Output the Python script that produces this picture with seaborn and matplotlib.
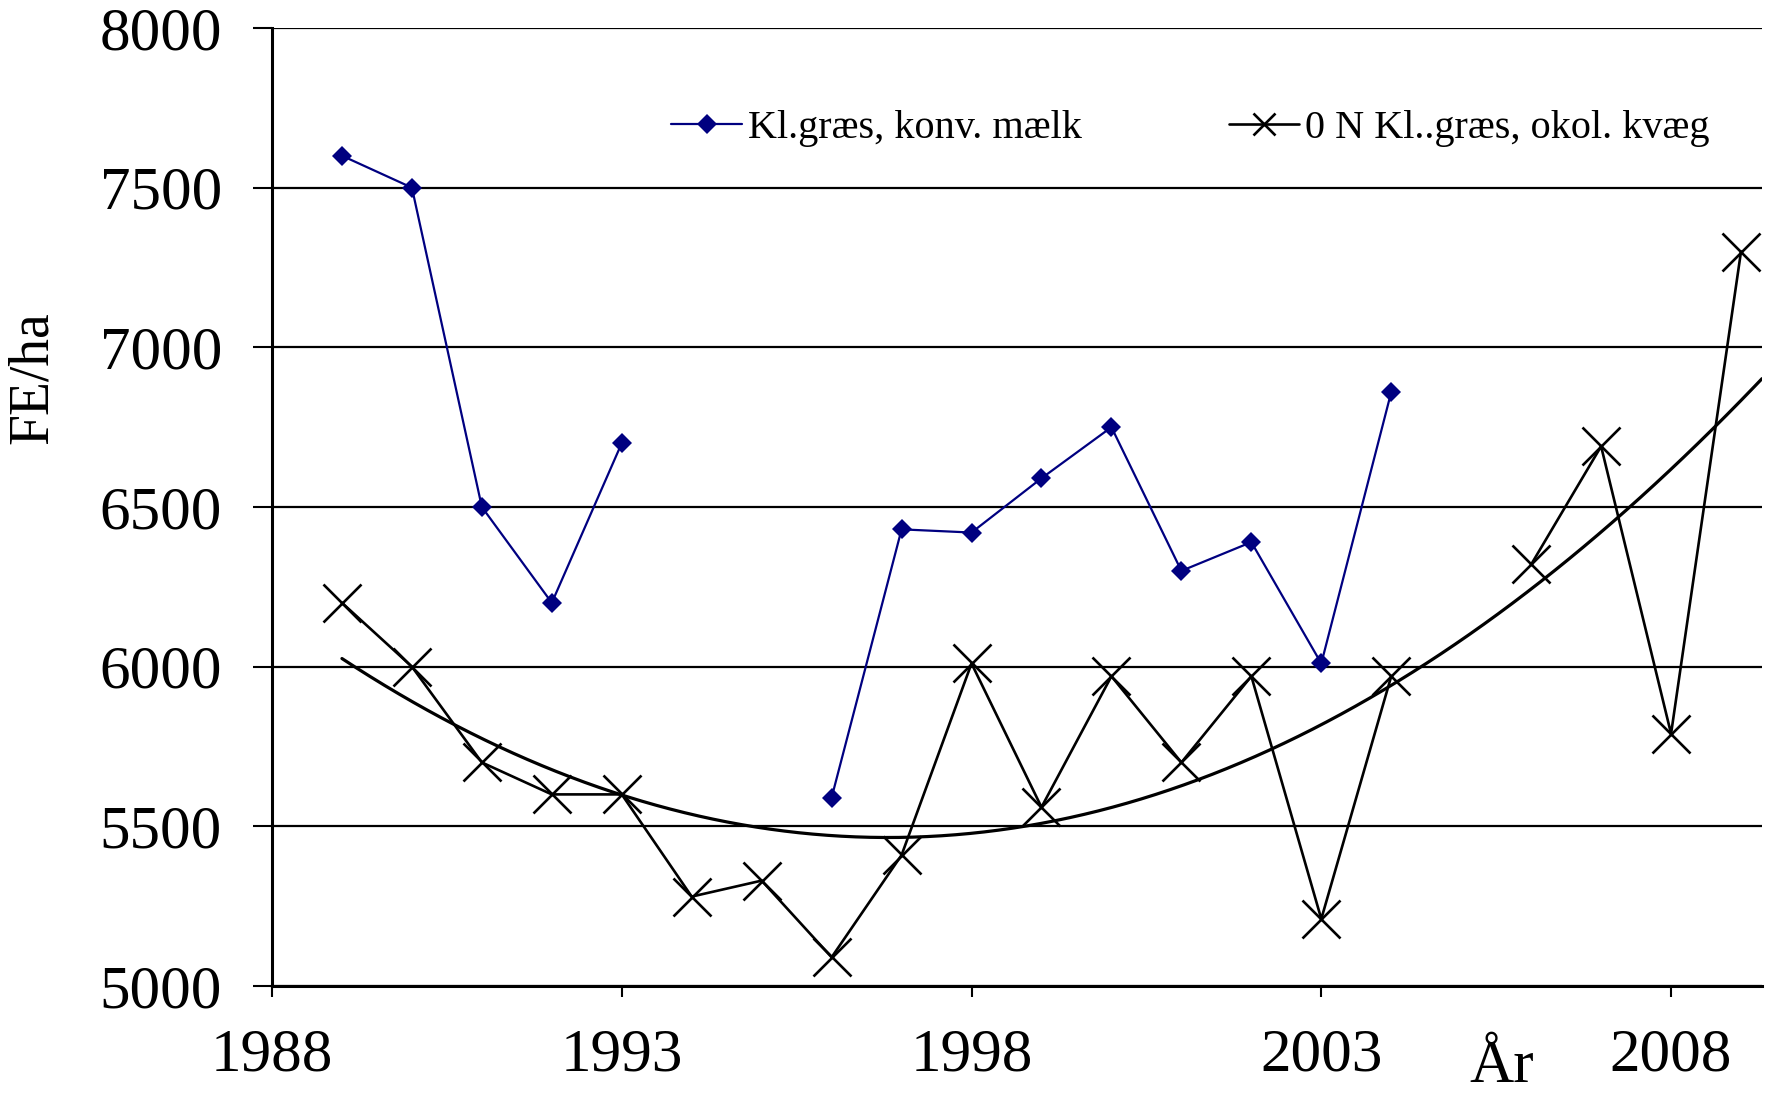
import numpy as np
import pandas as pd
import matplotlib
matplotlib.use("Agg")
import matplotlib.pyplot as plt
from matplotlib.lines import Line2D
import seaborn as sns

# ---- data ----
years_konv = [1989, 1990, 1991, 1992, 1993, 1996, 1997, 1998, 1999, 2000, 2001, 2002, 2003, 2004]
vals_konv = [7600, 7500, 6500, 6200, 6700, 5590, 6430, 6420, 6590, 6750, 6300, 6390, 6010, 6860]
seg_konv = [0, 0, 0, 0, 0, 1, 1, 1, 1, 1, 1, 1, 1, 1]

years_okol = [1989, 1990, 1991, 1992, 1993, 1994, 1995, 1996, 1997, 1998, 1999, 2000, 2001, 2002, 2003, 2004,
              2006, 2007, 2008, 2009]
vals_okol = [6200, 6000, 5700, 5600, 5600, 5280, 5330, 5090, 5410, 6010, 5560, 5970, 5700, 5970, 5210, 5970,
             6320, 6690, 5790, 7300]
seg_okol = [0] * 16 + [1] * 4

label_konv = "Kl.græs, konv. mælk"
label_okol = "0 N Kl..græs, okol. kvæg"
x_ticks = [1988, 1993, 1998, 2003, 2008]
y_ticks = [5000, 5500, 6000, 6500, 7000, 7500, 8000]

df_konv = pd.DataFrame({"year": years_konv, "val": vals_konv, "seg": seg_konv})
df_okol = pd.DataFrame({"year": years_okol, "val": vals_okol, "seg": seg_okol})

# polynomial (order 2) trend line of the okol series
coef = np.polyfit(years_okol, vals_okol, 2)
x_end = 2009.3
trend_x = np.linspace(1989, x_end, 200)
df_trend = pd.DataFrame({"year": trend_x, "val": np.polyval(coef, trend_x)})

# ---- style ----
sns.set_theme(style="white")
plt.rcParams["font.family"] = ["Liberation Serif", "DejaVu Serif"]
plt.rcParams["text.color"] = "black"
plt.rcParams["axes.labelcolor"] = "black"
plt.rcParams["xtick.color"] = "black"
plt.rcParams["ytick.color"] = "black"

fig = plt.figure(figsize=(17.71, 10.93), dpi=100)
ax = fig.add_axes([272 / 1771, 1 - 986 / 1093, (1762 - 272) / 1771, (986 - 28) / 1093])

navy = "#000080"
sns.lineplot(data=df_konv, x="year", y="val", units="seg", estimator=None, ax=ax,
             color=navy, linewidth=1.6, marker="D", markersize=10, markeredgewidth=0,
             markerfacecolor=navy, zorder=4)
sns.lineplot(data=df_okol, x="year", y="val", units="seg", estimator=None, ax=ax,
             color="black", linewidth=1.9, marker="x", markersize=28, markeredgewidth=1.9,
             markeredgecolor="black", zorder=3)
sns.lineplot(data=df_trend, x="year", y="val", ax=ax, color="black", linewidth=2.3, zorder=3)

ax.set_xlim(1988, x_end)
ax.set_ylim(5000, 8000)
ax.set_xticks(x_ticks)
ax.set_yticks(y_ticks)
ax.set_xticklabels([str(t) for t in x_ticks], fontsize=44)
ax.set_yticklabels([str(t) for t in y_ticks], fontsize=44)
ax.tick_params(axis="x", direction="out", length=8, width=1.5, pad=22, color="black", bottom=True)
ax.tick_params(axis="y", direction="out", length=14, width=1.5, pad=22, color="black", left=True)

ax.yaxis.grid(True, color="black", linewidth=1.6)
ax.xaxis.grid(False)
ax.set_axisbelow(True)
for s in ["top", "right"]:
    ax.spines[s].set_visible(False)
for s in ["left", "bottom"]:
    ax.spines[s].set_visible(True)
    ax.spines[s].set_color("black")
    ax.spines[s].set_linewidth(2.2)

ax.set_xlabel("")
ax.set_ylabel("FE/ha", fontsize=40)
ax.yaxis.set_label_coords(-0.143, 0.635)
ax.text(0.8255, -0.085, "År", transform=ax.transAxes, fontsize=44, ha="center", va="center")

handles = [
    Line2D([], [], color=navy, linewidth=1.6, marker="D", markersize=10, markeredgewidth=0),
    Line2D([], [], color="black", linewidth=1.9, marker="x", markersize=16, markeredgewidth=1.9),
]
ax.legend(handles, [label_konv, label_okol], loc="center left", bbox_to_anchor=(0.268, 0.895),
          ncol=2, frameon=False, fontsize=29, handlelength=1.75, handletextpad=0.15,
          columnspacing=3.65, borderpad=0, borderaxespad=0)

fig.savefig("out.png", dpi=100)
